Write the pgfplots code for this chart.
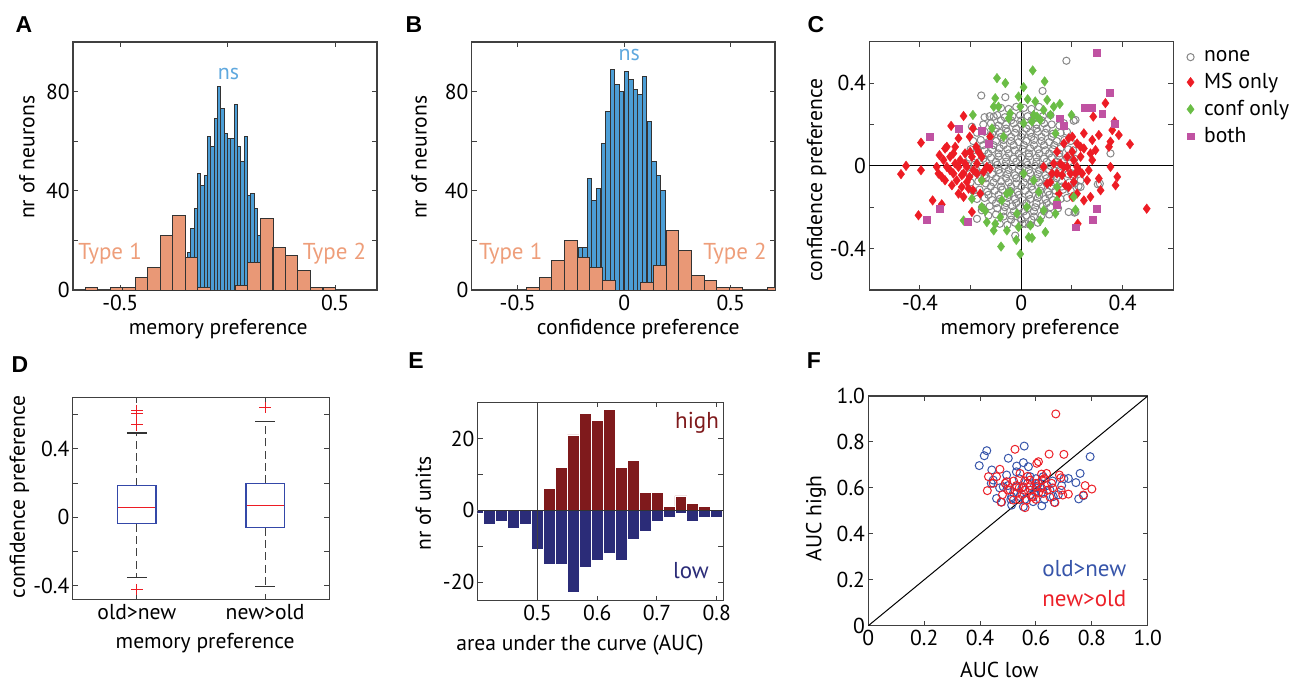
\documentclass[border=0pt]{standalone}
\usepackage{fontspec}
\setmainfont{PT Sans}
\newfontfamily\letterfont{Liberation Sans}
\usepackage{pgfplots}
\pgfplotsset{compat=1.18}
\definecolor{hblue}{RGB}{76,158,214}
\definecolor{horange}{RGB}{233,152,118}
\definecolor{nsblue}{RGB}{95,168,222}
\definecolor{typeorange}{RGB}{238,158,122}
\definecolor{cgray}{RGB}{135,135,135}
\definecolor{cred}{RGB}{237,28,36}
\definecolor{cgreen}{RGB}{106,189,69}
\definecolor{cmag}{RGB}{192,82,162}
\definecolor{ehigh}{RGB}{127,26,28}
\definecolor{elow}{RGB}{43,44,120}
\definecolor{fblue}{RGB}{55,85,170}
\definecolor{fred}{RGB}{236,32,40}
\definecolor{boxblue}{RGB}{52,72,168}
\pgfplotsset{
  myaxis/.style={
    scale only axis, anchor=south west, clip=true,
    axis line style={black!75, line width=0.6pt},
    tick style={black!75, line width=0.5pt},
    major tick length=2.5pt,
    tick align=inside,
    tick label style={font=\fontsize{10.8}{12}\selectfont, text=black},
    label style={font=\fontsize{10.8}{12}\selectfont, text=black, inner sep=0pt},
    yticklabel style={inner xsep=1.5pt},
    xticklabel style={inner ysep=2.2pt},
    /pgf/number format/assume math mode=true,
  },
  hbar/.style={ybar, bar shift=0pt, bar width=#1, draw=black!80, line width=0.5pt},
}
\begin{document}
\begin{tikzpicture}
\useasboundingbox (0,0) rectangle (644.5pt,341pt);
% ---------- panel letters
\node[font=\letterfont\fontsize{11.5}{13}\bfseries] at (12pt,328.5pt) {A};
\node[font=\letterfont\fontsize{11.5}{13}\bfseries] at (207pt,328.5pt) {B};
\node[font=\letterfont\fontsize{11.5}{13}\bfseries] at (408pt,328.5pt) {C};
\node[font=\letterfont\fontsize{11.5}{13}\bfseries] at (10pt,158.5pt) {D};
\node[font=\letterfont\fontsize{11.5}{13}\bfseries] at (208pt,160.6pt) {E};
\node[font=\letterfont\fontsize{11.5}{13}\bfseries] at (407pt,160.6pt) {F};

% ---------- A
\begin{axis}[myaxis, at={(36.5pt,196pt)}, width=152pt, height=124pt,
  xmin=-0.72, xmax=0.695, ymin=0, ymax=100,
  xtick={-0.5,0,0.5}, xticklabels={-0.5,,0.5},
  ytick={0,20,40,60,80,100}, yticklabels={0,,40,,80,},
  xlabel={memory preference}, ylabel={nr of neurons},
  xlabel style={at={(axis description cs:0.478,-0.157)}, anchor=center},
  ylabel style={at={(axis description cs:-0.152,0.535)}, anchor=center, rotate=0}]
\addplot[hbar=0.0155, fill=hblue] coordinates {
(-0.179,15) (-0.164,25) (-0.148,33) (-0.133,47) (-0.117,42) (-0.102,46) (-0.086,62) (-0.071,58)
(-0.055,69) (-0.040,82) (-0.024,73) (-0.009,63) (0.007,61) (0.022,61) (0.038,75) (0.053,58)
(0.069,52) (0.084,62) (0.100,38) (0.115,39) (0.131,33) (0.146,22)};
\addplot[hbar=0.05825, fill=horange] coordinates {
(-0.634,1) (-0.576,0) (-0.517,1) (-0.459,1) (-0.401,5) (-0.343,9) (-0.284,22) (-0.226,30)
(-0.168,13) (-0.110,1) (-0.051,0) (0.007,0) (0.065,2) (0.123,11) (0.182,29) (0.240,17)
(0.298,14) (0.356,8) (0.414,1) (0.473,1)};
\node[text=nsblue, font=\fontsize{11}{12}\selectfont] at (axis cs:0.004,87.2) {ns};
\node[text=typeorange, font=\fontsize{11.5}{12}\selectfont] at (axis cs:-0.547,14.5) {Type 1};
\node[text=typeorange, font=\fontsize{11.5}{12}\selectfont] at (axis cs:0.497,14.5) {Type 2};
\end{axis}

% ---------- B
\begin{axis}[myaxis, at={(235.85pt,196pt)}, width=151.65pt, height=124pt,
  xmin=-0.716, xmax=0.708, ymin=0, ymax=100,
  xtick={-0.5,0,0.5}, xticklabels={-0.5,0,0.5},
  ytick={0,20,40,60,80,100}, yticklabels={0,,40,,80,},
  xlabel={confidence preference}, ylabel={nr of neurons},
  xlabel style={at={(axis description cs:0.549,-0.157)}, anchor=center},
  ylabel style={at={(axis description cs:-0.173,0.535)}, anchor=center}]
\addplot[hbar=0.0216, fill=hblue] coordinates {
(-0.206,17) (-0.184,17) (-0.163,45) (-0.141,36) (-0.120,41) (-0.098,59) (-0.076,72) (-0.055,89)
(-0.033,83) (-0.012,80) (0.010,88) (0.032,85) (0.053,81) (0.075,79) (0.096,86) (0.118,68)
(0.140,52) (0.161,46) (0.183,40)};
\addplot[hbar=0.0596, fill=horange] coordinates {
(-0.429,1) (-0.369,5) (-0.310,12) (-0.250,20) (-0.191,13) (-0.131,9) (-0.071,4) (-0.012,0)
(0.048,0) (0.107,3) (0.167,10) (0.227,24) (0.286,16) (0.346,6) (0.405,4) (0.465,1)
(0.525,1) (0.584,0) (0.644,0) (0.703,1)};
\node[text=nsblue, font=\fontsize{11}{12}\selectfont] at (axis cs:0.024,94.8) {ns};
\node[text=typeorange, font=\fontsize{11.5}{12}\selectfont] at (axis cs:-0.533,14.5) {Type 1};
\node[text=typeorange, font=\fontsize{11.5}{12}\selectfont] at (axis cs:0.520,14.5) {Type 2};
\end{axis}

% ---------- C
\begin{axis}[myaxis, at={(434.65pt,196pt)}, width=152pt, height=124.15pt,
  xmin=-0.6, xmax=0.6, ymin=-0.6, ymax=0.6,
  xtick={-0.4,-0.2,0,0.2,0.4}, xticklabels={-0.4,,0,,0.4},
  ytick={-0.4,-0.2,0,0.2,0.4}, yticklabels={-0.4,,0,,0.4},
  xlabel={memory preference}, ylabel={confidence preference},
  xlabel style={at={(axis description cs:0.529,-0.157)}, anchor=center},
  ylabel style={at={(axis description cs:-0.173,0.443)}, anchor=center},
  legend style={at={(axis description cs:1.037,1.0)}, anchor=north west, draw=none, fill=none,
    font=\fontsize{10.8}{12}\selectfont, row sep=0.4pt, inner xsep=1pt,
    /tikz/every odd column/.append style={column sep=3pt}},
  legend cell align=left]
\addplot[only marks, mark=o, mark size=1.8pt, mark options={draw=cgray, line width=0.5pt}] coordinates {
(-0.08,0.28) (-0.05,0.275) (-0.02,0.285) (0.01,0.28) (0.04,0.275) (0.07,0.285)
(-0.125,0.24) (-0.095,0.245) (-0.065,0.235) (-0.035,0.24) (-0.005,0.245) (0.025,0.24) (0.055,0.235) (0.085,0.24) (0.115,0.245)
(-0.15,0.2) (-0.12,0.205) (-0.09,0.195) (-0.06,0.2) (-0.03,0.205) (0,0.2) (0.03,0.195) (0.06,0.2) (0.09,0.205) (0.12,0.2) (0.15,0.195)
(-0.175,0.16) (-0.145,0.165) (-0.115,0.155) (-0.085,0.16) (-0.055,0.165) (-0.025,0.16) (0.005,0.155) (0.035,0.16) (0.065,0.165) (0.095,0.16) (0.125,0.155) (0.155,0.16) (0.18,0.165)
(-0.19,0.12) (-0.16,0.125) (-0.13,0.115) (-0.10,0.12) (-0.07,0.125) (-0.04,0.12) (-0.01,0.115) (0.02,0.12) (0.05,0.125) (0.08,0.12) (0.11,0.115) (0.14,0.12) (0.17,0.125) (0.195,0.12)
(-0.2,0.08) (-0.175,0.085) (-0.145,0.075) (-0.115,0.08) (-0.085,0.085) (-0.055,0.08) (-0.025,0.075) (0.005,0.08) (0.035,0.085) (0.065,0.08) (0.095,0.075) (0.125,0.08) (0.155,0.085) (0.185,0.08) (0.205,0.075)
(-0.205,0.04) (-0.18,0.045) (-0.15,0.035) (-0.12,0.04) (-0.09,0.045) (-0.06,0.04) (-0.03,0.035) (0,0.04) (0.03,0.045) (0.06,0.04) (0.09,0.035) (0.12,0.04) (0.15,0.045) (0.18,0.04) (0.21,0.035)
(-0.21,0) (-0.185,0.005) (-0.155,-0.005) (-0.125,0) (-0.095,0.005) (-0.065,0) (-0.035,-0.005) (-0.005,0) (0.025,0.005) (0.055,0) (0.085,-0.005) (0.115,0) (0.145,0.005) (0.175,0) (0.205,-0.005)
(-0.205,-0.04) (-0.175,-0.035) (-0.145,-0.045) (-0.115,-0.04) (-0.085,-0.035) (-0.055,-0.04) (-0.025,-0.045) (0.005,-0.04) (0.035,-0.035) (0.065,-0.04) (0.095,-0.045) (0.125,-0.04) (0.155,-0.035) (0.185,-0.04) (0.21,-0.045)
(-0.2,-0.08) (-0.17,-0.075) (-0.14,-0.085) (-0.11,-0.08) (-0.08,-0.075) (-0.05,-0.08) (-0.02,-0.085) (0.01,-0.08) (0.04,-0.075) (0.07,-0.08) (0.1,-0.085) (0.13,-0.08) (0.16,-0.075) (0.19,-0.08) (0.21,-0.085)
(-0.19,-0.12) (-0.165,-0.115) (-0.135,-0.125) (-0.105,-0.12) (-0.075,-0.115) (-0.045,-0.12) (-0.015,-0.125) (0.015,-0.12) (0.045,-0.115) (0.075,-0.12) (0.105,-0.125) (0.135,-0.12) (0.165,-0.115) (0.195,-0.12)
(-0.175,-0.16) (-0.145,-0.155) (-0.115,-0.165) (-0.085,-0.16) (-0.055,-0.155) (-0.025,-0.16) (0.005,-0.165) (0.035,-0.16) (0.065,-0.155) (0.095,-0.16) (0.125,-0.165) (0.155,-0.16) (0.18,-0.155)
(-0.155,-0.2) (-0.125,-0.195) (-0.095,-0.205) (-0.065,-0.2) (-0.035,-0.195) (-0.005,-0.2) (0.025,-0.205) (0.055,-0.2) (0.085,-0.195) (0.115,-0.2) (0.145,-0.205)
(-0.13,-0.24) (-0.1,-0.235) (-0.07,-0.245) (-0.04,-0.24) (-0.01,-0.235) (0.02,-0.24) (0.05,-0.245) (0.08,-0.24) (0.11,-0.235)
(-0.085,-0.28) (-0.055,-0.285) (-0.025,-0.275) (0.005,-0.28) (0.035,-0.285) (0.065,-0.275)
(-0.14,0.02) (-0.10,0.02) (-0.06,0.02) (-0.02,0.02) (0.02,0.02) (0.06,0.02) (0.10,0.02) (0.14,0.02)
(-0.13,0.06) (-0.09,0.06) (-0.05,0.06) (-0.01,0.06) (0.03,0.06) (0.07,0.06) (0.11,0.06) (0.15,0.06)
(-0.15,0.10) (-0.11,0.10) (-0.07,0.10) (-0.03,0.10) (0.01,0.10) (0.05,0.10) (0.09,0.10) (0.13,0.10)
(-0.12,0.14) (-0.08,0.14) (-0.04,0.14) (0,0.14) (0.04,0.14) (0.08,0.14) (0.12,0.14)
(-0.10,0.18) (-0.06,0.18) (-0.02,0.18) (0.02,0.18) (0.06,0.18) (0.10,0.18)
(-0.08,0.22) (-0.04,0.22) (0,0.22) (0.04,0.22) (0.08,0.22)
(-0.13,-0.02) (-0.09,-0.02) (-0.05,-0.02) (-0.01,-0.02) (0.03,-0.02) (0.07,-0.02) (0.11,-0.02) (0.15,-0.02)
(-0.14,-0.06) (-0.10,-0.06) (-0.06,-0.06) (-0.02,-0.06) (0.02,-0.06) (0.06,-0.06) (0.10,-0.06) (0.14,-0.06)
(-0.12,-0.10) (-0.08,-0.10) (-0.04,-0.10) (0,-0.10) (0.04,-0.10) (0.08,-0.10) (0.12,-0.10) (0.16,-0.10)
(-0.13,-0.14) (-0.09,-0.14) (-0.05,-0.14) (-0.01,-0.14) (0.03,-0.14) (0.07,-0.14) (0.11,-0.14)
(-0.10,-0.18) (-0.06,-0.18) (-0.02,-0.18) (0.02,-0.18) (0.06,-0.18) (0.10,-0.18)
(-0.07,-0.22) (-0.03,-0.22) (0.01,-0.22) (0.05,-0.22) (0.09,-0.22)
(-0.04,-0.26) (0.0,-0.26) (0.04,-0.26)
(-0.158,0.340) (-0.063,0.332) (0.084,0.362) (0.178,0.508) (0.352,0.060) (0.310,-0.086) (0.214,0.222) (-0.145,0.235)
(-0.109,0.238) (0.234,-0.070) (0.234,-0.102) (0.187,-0.223) (0.214,-0.223) (0.016,-0.280) (-0.175,-0.256) (-0.156,-0.215)
(-0.024,-0.337) (0.168,0.206) (-0.195,0.189) (0.207,0.218) (0.302,-0.089) (0.21,-0.226) (0.226,-0.099)};
\addlegendentry{none}
\addplot[only marks, mark=diamond*, mark size=2.4pt, mark options={fill=cred, draw=cred, line width=0.2pt}] coordinates {
(-0.475,-0.040) (-0.455,0.000) (-0.396,-0.021) (-0.396,0.112) (-0.406,-0.239) (-0.350,-0.167) (-0.314,-0.186) (-0.323,0.052)
(-0.301,0.084) (-0.277,0.193) (-0.228,0.241) (-0.191,0.181) (-0.204,0.141) (-0.178,0.092) (-0.294,-0.005) (-0.268,-0.037)
(-0.255,-0.070) (-0.235,-0.102) (-0.215,-0.078) (-0.241,0.028) (-0.222,0.060) (-0.195,0.044) (-0.175,0.011) (-0.156,0.044)
(-0.136,-0.005) (-0.123,0.141) (-0.195,-0.223) (-0.162,-0.134) (-0.191,-0.118) (-0.314,-0.053) (-0.301,-0.070) (-0.281,0.044)
(-0.261,0.092) (-0.248,-0.005) (-0.215,-0.005) (-0.175,-0.037) (-0.248,-0.134) (-0.274,-0.094) (-0.327,-0.037) (-0.334,-0.005)
(-0.228,-0.037) (-0.149,-0.029) (-0.123,-0.013) (-0.189,-0.021) (-0.204,-0.053) (-0.222,0.011) (-0.261,0.011) (-0.281,-0.021)
(-0.307,0.028) (-0.294,0.092) (-0.248,0.133) (-0.268,0.060) (-0.235,-0.045) (-0.202,0.068) (-0.156,-0.070) (-0.169,0.068)
(-0.228,-0.150) (-0.208,-0.110)
(0.088,-0.005) (0.102,-0.086) (0.128,0.011) (0.141,-0.037) (0.148,-0.134) (0.168,0.108) (0.181,0.044) (0.194,-0.037)
(0.207,-0.078) (0.220,-0.005) (0.234,0.044) (0.247,0.157) (0.234,0.092) (0.240,-0.037) (0.266,-0.021) (0.260,-0.070)
(0.247,-0.167) (0.220,-0.134) (0.187,-0.102) (0.161,-0.045) (0.201,0.141) (0.220,0.108) (0.280,0.125) (0.293,0.076)
(0.306,0.149) (0.284,0.238) (0.332,0.303) (0.346,0.092) (0.352,-0.005) (0.359,0.173) (0.385,0.149) (0.306,-0.061)
(0.313,-0.118) (0.379,-0.053) (0.372,-0.094) (0.368,0.214) (0.429,0.105) (0.495,-0.207) (0.223,-0.280) (0.168,-0.005)
(0.207,0.028) (0.273,0.060) (0.154,0.011) (0.115,-0.078) (0.181,-0.005) (0.201,0.068) (0.227,-0.021) (0.187,0.133)
(0.280,0.028) (0.121,-0.037) (0.141,0.068) (0.352,0.117) (0.247,0.084) (0.214,-0.037) (0.174,-0.094) (0.201,-0.150)
(0.273,-0.150)};
\addlegendentry{MS only}
\addplot[only marks, mark=diamond*, mark size=2.4pt, mark options={fill=cgreen, draw=cgreen, line width=0.2pt}] coordinates {
(-0.096,0.424) (-0.063,0.400) (0.045,0.461) (0.092,0.408) (0.009,0.380) (-0.103,0.327) (-0.090,0.286) (-0.044,0.254)
(-0.011,0.335) (0.025,0.322) (0.055,0.311) (0.102,0.319) (0.128,0.286) (0.152,0.299) (0.198,0.246) (-0.191,0.246)
(-0.116,0.181) (-0.070,0.141) (-0.050,0.230) (0.049,0.246) (0.075,0.222) (0.115,0.246) (0.135,0.157) (-0.004,0.286)
(0.009,0.206) (-0.156,-0.070) (-0.195,-0.159) (-0.142,-0.218) (-0.228,-0.264) (-0.136,-0.272) (-0.103,-0.280) (-0.083,-0.248)
(-0.044,-0.126) (-0.057,-0.134) (-0.057,-0.312) (-0.020,-0.358) (-0.004,-0.426) (-0.080,-0.390) (-0.011,-0.296) (0.029,-0.345)
(0.042,-0.348) (0.095,-0.320) (0.075,-0.264) (0.088,-0.215) (0.135,-0.231) (0.141,-0.167) (0.049,-0.070) (0.069,-0.126)
(0.207,-0.150) (0.214,-0.212) (0.141,-0.102) (0.009,-0.037) (-0.017,-0.231) (-0.109,-0.312) (0.022,-0.199) (-0.077,-0.167)
(0.062,0.238) (0.088,0.270) (0.042,0.214) (-0.109,0.286) (-0.156,-0.199) (0.036,-0.288)};
\addlegendentry{conf only}
\addplot[only marks, mark=square*, mark size=1.7pt, mark options={fill=cmag, draw=cmag, line width=0.2pt}] coordinates {
(0.297,0.545) (0.348,0.354) (0.251,0.282) (0.280,0.282) (0.319,0.254) (0.368,0.202) (0.152,0.230) (0.168,0.196)
(-0.156,0.170) (-0.248,0.181) (-0.363,0.141) (-0.129,0.108) (-0.323,-0.206) (-0.373,-0.259) (-0.211,-0.270) (0.141,-0.189)
(0.297,-0.206) (0.282,-0.259) (0.216,-0.296)};
\addlegendentry{both}
\draw[black, line width=0.6pt] (axis cs:0,-0.6) -- (axis cs:0,0.6);
\draw[black, line width=0.6pt] (axis cs:-0.6,0) -- (axis cs:0.6,0);
\end{axis}

% ---------- D
\begin{axis}[myaxis, at={(36.35pt,41.35pt)}, width=128.3pt, height=100.8pt,
  xmin=0.5, xmax=2.5, ymin=-0.48, ymax=0.7,
  xtick={1,2}, xticklabels={old>new,new>old},
  ytick={-0.4,-0.2,0,0.2,0.4,0.6}, yticklabels={-0.4,,0,,0.4,},
  xlabel={memory preference}, ylabel={confidence preference},
  xlabel style={at={(axis description cs:0.516,-0.215)}, anchor=center},
  ylabel style={at={(axis description cs:-0.208,0.509)}, anchor=center}]
% box 1
\addplot[mark=none, color=black!75, line width=0.6pt, dash pattern=on 4pt off 2.2pt] coordinates {(1,0.184) (1,0.493)};
\addplot[mark=none, color=black!75, line width=0.6pt, dash pattern=on 4pt off 2.2pt] coordinates {(1,-0.037) (1,-0.351)};
\addplot[mark=none, color=black!80, line width=0.6pt] coordinates {(0.922,0.493) (1.078,0.493)};
\addplot[mark=none, color=black!80, line width=0.6pt] coordinates {(0.922,-0.351) (1.078,-0.351)};
\addplot[mark=none, color=boxblue, line width=0.6pt, line join=miter] coordinates {(0.85,-0.037) (1.15,-0.037) (1.15,0.184) (0.85,0.184) (0.85,-0.037) (1.15,-0.037)};
\addplot[mark=none, color=cred, line width=0.6pt] coordinates {(0.855,0.056) (1.145,0.056)};
\addplot[only marks, color=cred, mark=+, mark size=2.9pt, line width=0.5pt] coordinates {(1,0.625) (1,0.608) (1,0.542) (1,-0.423)};
% box 2
\addplot[mark=none, color=black!75, line width=0.6pt, dash pattern=on 4pt off 2.2pt] coordinates {(2,0.198) (2,0.561)};
\addplot[mark=none, color=black!75, line width=0.6pt, dash pattern=on 4pt off 2.2pt] coordinates {(2,-0.060) (2,-0.404)};
\addplot[mark=none, color=black!80, line width=0.6pt] coordinates {(1.922,0.561) (2.078,0.561)};
\addplot[mark=none, color=black!80, line width=0.6pt] coordinates {(1.922,-0.404) (2.078,-0.404)};
\addplot[mark=none, color=boxblue, line width=0.6pt, line join=miter] coordinates {(1.85,-0.060) (2.15,-0.060) (2.15,0.198) (1.85,0.198) (1.85,-0.060) (2.15,-0.060)};
\addplot[mark=none, color=cred, line width=0.6pt] coordinates {(1.855,0.068) (2.145,0.068)};
\addplot[only marks, color=cred, mark=+, mark size=2.9pt, line width=0.5pt] coordinates {(2,0.643)};
\end{axis}

% ---------- E
\begin{axis}[myaxis, at={(238.85pt,40.65pt)}, width=122.8pt, height=99.2pt,
  xmin=0.4, xmax=0.811, ymin=-25.2, ymax=30.1,
  xtick={0.5,0.6,0.7,0.8}, xticklabels={0.5,0.6,0.7,0.8},
  ytick={-20,-10,0,10,20}, yticklabels={-20,,0,,20},
  xlabel={area under the curve (AUC)}, ylabel={nr of units},
  xlabel style={at={(axis description cs:0.4165,-0.223)}, anchor=center},
  ylabel style={at={(axis description cs:-0.221,0.491)}, anchor=center}]
\addplot[ybar, bar shift=0pt, bar width=0.02, fill=ehigh, draw=white, line width=0.4pt] coordinates {
(0.52,6) (0.54,12) (0.56,21) (0.58,27) (0.60,25) (0.62,28) (0.64,12) (0.66,14) (0.68,5) (0.70,5)
(0.72,1) (0.74,4) (0.76,2) (0.78,1)};
\addplot[ybar, bar shift=0pt, bar width=0.02, fill=elow, draw=white, line width=0.4pt] coordinates {
(0.40,-1) (0.42,-4) (0.44,-3) (0.46,-5) (0.48,-4) (0.50,-11) (0.52,-15) (0.54,-15) (0.56,-23) (0.58,-16)
(0.60,-14) (0.62,-12) (0.64,-14) (0.66,-8) (0.68,-6) (0.70,-3) (0.72,-2) (0.74,-1) (0.76,-3) (0.78,-2) (0.80,-2)};
\draw[black!75, line width=0.6pt] (axis cs:0.5,-25.2) -- (axis cs:0.5,30.1);
\draw[black!80, line width=0.6pt] (axis cs:0.4,0) -- (axis cs:0.811,0);
\node[text=ehigh, font=\fontsize{11.5}{12}\selectfont] at (axis cs:0.767,24.3) {high};
\node[text=elow, font=\fontsize{11.5}{12}\selectfont] at (axis cs:0.757,-16.7) {low};
\end{axis}

% ---------- F
\begin{axis}[myaxis, at={(434.15pt,28.15pt)}, width=139.7pt, height=114.85pt,
  xmin=0, xmax=1, ymin=0, ymax=1,
  xtick={0,0.2,0.4,0.6,0.8,1}, xticklabels={0,0.2,0.4,0.6,0.8,1.0},
  ytick={0,0.2,0.4,0.6,0.8,1}, yticklabels={0,0.2,0.4,0.6,0.8,1.0},
  xlabel={AUC low}, ylabel={AUC high},
  xlabel style={at={(axis description cs:0.469,-0.193)}, anchor=center},
  ylabel style={at={(axis description cs:-0.187,0.468)}, anchor=center}]
\addplot[only marks, mark=o, mark size=2pt, mark options={draw=fblue, line width=0.5pt}] coordinates {
(0.397,0.697) (0.415,0.740) (0.424,0.762) (0.501,0.729) (0.558,0.782) (0.531,0.695) (0.555,0.710) (0.442,0.678)
(0.459,0.554) (0.477,0.538) (0.513,0.525) (0.621,0.522) (0.666,0.537) (0.753,0.552) (0.770,0.566) (0.743,0.623)
(0.758,0.663) (0.794,0.736) (0.716,0.641) (0.692,0.610) (0.662,0.562) (0.573,0.692) (0.597,0.583) (0.543,0.562)
(0.579,0.649) (0.495,0.656) (0.531,0.605) (0.447,0.634) (0.609,0.620) (0.626,0.649) (0.650,0.591) (0.555,0.518)
(0.513,0.562) (0.483,0.605) (0.55,0.60) (0.57,0.62) (0.60,0.60) (0.52,0.58) (0.58,0.57) (0.62,0.58)
(0.54,0.64) (0.50,0.61) (0.56,0.55) (0.64,0.61) (0.66,0.63) (0.47,0.60) (0.60,0.64) (0.53,0.67)
(0.59,0.54) (0.68,0.57) (0.70,0.64) (0.44,0.62) (0.51,0.55) (0.63,0.55)};
\addplot[only marks, mark=o, mark size=2pt, mark options={draw=fred, line width=0.5pt}] coordinates {
(0.671,0.922) (0.525,0.768) (0.609,0.714) (0.647,0.747) (0.700,0.746) (0.430,0.649) (0.471,0.681) (0.426,0.588)
(0.475,0.538) (0.561,0.514) (0.668,0.536) (0.696,0.569) (0.716,0.573) (0.770,0.569) (0.776,0.610) (0.800,0.595)
(0.684,0.656) (0.689,0.644) (0.603,0.707) (0.638,0.663) (0.579,0.634) (0.555,0.605) (0.507,0.591) (0.531,0.576)
(0.603,0.605) (0.626,0.576) (0.495,0.627) (0.543,0.663) (0.447,0.620) (0.585,0.562) (0.621,0.634) (0.656,0.620)
(0.567,0.547) (0.519,0.547) (0.459,0.649) (0.53,0.61) (0.56,0.63) (0.58,0.59) (0.60,0.62) (0.55,0.57)
(0.62,0.60) (0.50,0.59) (0.57,0.65) (0.64,0.59) (0.52,0.63) (0.59,0.56) (0.61,0.58) (0.54,0.60)
(0.58,0.61) (0.66,0.60) (0.49,0.62) (0.63,0.64) (0.56,0.59) (0.60,0.55) (0.65,0.56) (0.48,0.57)
(0.69,0.59) (0.62,0.66) (0.54,0.55)};
\draw[black, line width=0.5pt] (axis cs:0,0) -- (axis cs:1,1);
\node[text=fblue, font=\fontsize{11.5}{12}\selectfont] at (axis cs:0.773,0.247) {old>new};
\node[text=fred, font=\fontsize{11.5}{12}\selectfont] at (axis cs:0.773,0.116) {new>old};
\end{axis}
\end{tikzpicture}
\end{document}
